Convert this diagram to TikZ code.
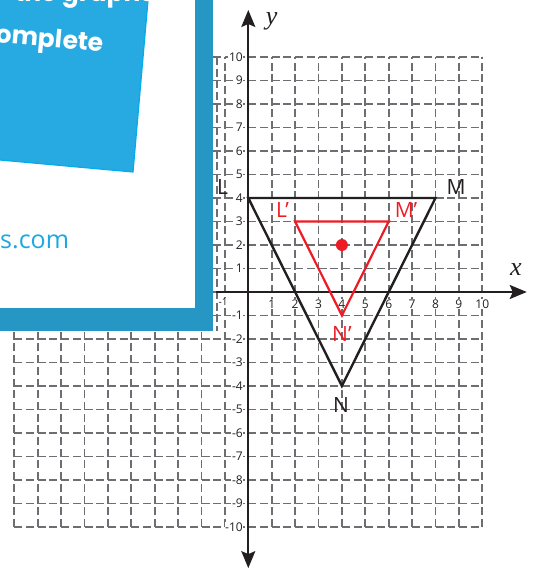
\documentclass[tikz,border=0pt]{standalone}
\usepackage{fontspec}
\setmainfont{Open Sans}
\newfontfamily\serifit{Liberation Serif}
\newfontfamily\handfont{Poppins}
\usetikzlibrary{arrows.meta}
\definecolor{gridgray}{HTML}{6D6E71}
\definecolor{framecol}{HTML}{2697C5}
\definecolor{boxcol}{HTML}{27A9E1}
\definecolor{boxedge}{HTML}{00AEEF}
\definecolor{webblue}{HTML}{1CA9E1}
\definecolor{redink}{HTML}{ED1C24}
\definecolor{inkblack}{HTML}{231F20}
\tikzset{
  gridline/.style={draw=gridgray, line width=1.7pt, dash pattern=on 8pt off 3.7pt},
  axisline/.style={draw=inkblack, line width=1.8pt},
  tip/.style={-{Stealth[length=17pt,width=14pt,inset=3pt]}},
  ticklabel/.style={font=\fontsize{12}{12}\selectfont, text=inkblack, fill=white, inner sep=0.6pt},
  ptlabel/.style={font=\fontsize{21}{21}\selectfont, inner sep=0pt},
  blacktri/.style={draw=inkblack, line width=2.4pt},
  redtri/.style={draw=redink, line width=2.2pt},
  axislabel/.style={font=\serifit\itshape\fontsize{26}{26}\selectfont, text=inkblack, inner sep=0pt},
  handtext/.style={text=white, font=\handfont\bfseries\fontsize{25}{25}\selectfont, inner sep=0pt}
}
\begin{document}
\begin{tikzpicture}[x=1pt,y=1pt]
\useasboundingbox (0,0) rectangle (535,571);
% grid
\begin{scope}[shift={(248.3pt,279pt)}, x=23.4pt, y=23.5pt]
  \foreach \i in {-10,...,10} {
    \draw[gridline] (-10,\i) -- (10,\i);
    \draw[gridline] (\i,-10) -- (\i,10);
  }
\end{scope}
\draw[gridline] (217,514) -- (217,240);
% frame panel
\fill[framecol] (-5,240) rectangle (213,576);
\fill[white] (-5,263) rectangle (195,576);
% tilted box
\filldraw[fill=boxcol, draw=boxedge, line width=1.2pt] (-10,411.9) -- (133,399) -- (148.9,581) -- (-10,581) -- cycle;
\begin{scope}
  \clip (-10,411.9) -- (133,399) -- (148.9,581) -- (-10,581) -- cycle;
  \node[handtext, anchor=base east, rotate=-5] (txtcomplete) at (103,519) {complete};
  \node[handtext, anchor=base west] (txttop) at (14,569.5) {the graphs to};
\end{scope}
\node[anchor=base west, text=webblue, font=\fontsize{25}{25}\selectfont, inner sep=0pt] (txtweb) at (0,322) {s.com};
% graph
\begin{scope}[shift={(248.3pt,279pt)}, x=23.4pt, y=23.5pt]
  \coordinate (xs) at (-1.38,0);
  \coordinate (xe) at (11.9,0);
  \coordinate (ys) at (0,-11.75);
  \coordinate (ye) at (0,12.0);
  \draw[axisline, tip] (xs) -- (xe);
  \draw[axisline, tip] (0,0) -- (ye);
  \draw[axisline, tip] (0,0) -- (ys);
  \node[axislabel] (xlab) at (11.44,0.94) {x};
  \node[axislabel] (ylab) at (1.0,11.5) {y};
  \foreach \i in {1,...,10} {
    \node[ticklabel, anchor=east] (yp\i) at (-0.2,\i) {\i};
    \node[ticklabel, anchor=east] (yn\i) at (-0.2,-\i) {-\i};
    \node[ticklabel] (xp\i) at (\i,-0.51) {\i};
  }
  \node[ticklabel, font=\fontsize{10}{10}\selectfont] (xn1) at (-1.08,-0.42) {-1};
  % triangles
  \coordinate (L) at (0,4);
  \coordinate (M) at (8,4);
  \coordinate (N) at (4,-4);
  \coordinate (Lp) at (2,3);
  \coordinate (Mp) at (6,3);
  \coordinate (Np) at (4,-1);
  \draw[blacktri] (L) -- (M) -- (N) -- cycle;
  \draw[redtri] (Lp) -- (Mp) -- (Np) -- cycle;
  \fill[redink] (4,2) circle (6pt);
  \node[ptlabel, text=inkblack] (lL) at (-1.10,4.47) {L};
  \node[ptlabel, text=inkblack] (lM) at (8.88,4.47) {M};
  \node[ptlabel, text=inkblack] (lN) at (3.96,-4.83) {N};
  \node[ptlabel, text=redink] (lLp) at (1.46,3.51) {L’};
  \node[ptlabel, text=redink] (lMp) at (6.74,3.51) {M’};
  \node[ptlabel, text=redink] (lNp) at (4.0,-1.79) {N’};
\end{scope}
\end{tikzpicture}
\end{document}
